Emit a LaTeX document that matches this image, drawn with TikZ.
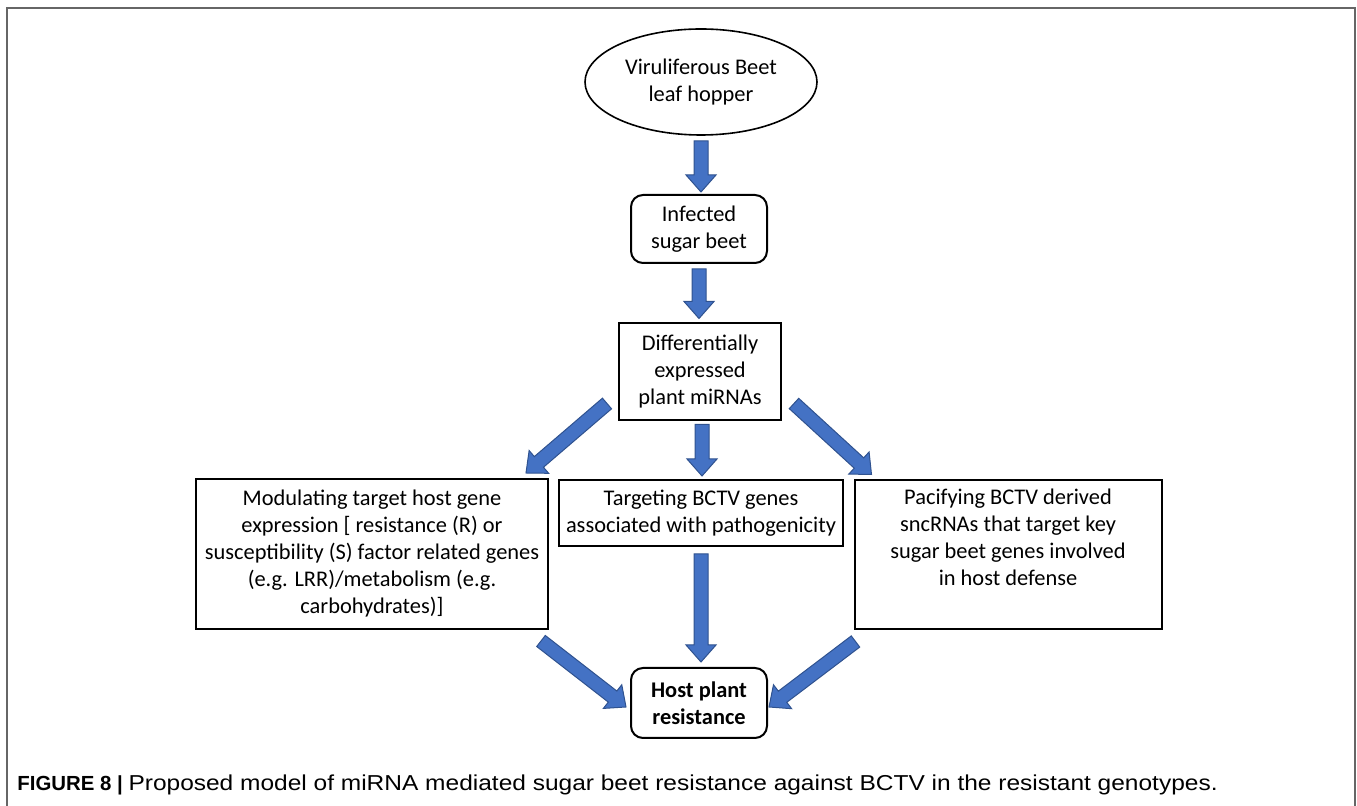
\documentclass[tikz,border=0pt]{standalone}
\usepackage{fontspec}
\usepackage{graphicx}
\setmainfont{Carlito}
\newfontfamily\capfont{Liberation Sans}
\usetikzlibrary{shapes.geometric}
\usetikzlibrary{calc}

\definecolor{arrblue}{HTML}{4472C4}
\definecolor{arredge}{HTML}{2F528F}
\definecolor{framegray}{HTML}{666666}

\tikzset{
  box/.style={draw,line width=1pt,align=center,inner sep=0pt,
    font=\fontsize{11.2}{13.5}\selectfont},
  rbox/.style={box,rounded corners=6pt},
  oval/.style={box,ellipse,line width=0.8pt},
  hostbox/.style={rbox,font=\fontsize{11.2}{13.5}\selectfont\bfseries},
  % block arrow, shaft 14px, head 30px wide, 17px long
  blk/.style={fill=arrblue,draw=arredge,line width=0.5pt,line join=miter,
    to path={
      ($(\tikztostart)!3.5pt!90:(\tikztotarget)$)
      -- ($(\tikztotarget)!8.5pt!(\tikztostart)!3.5pt!-90:(\tikztostart)$)
      -- ($(\tikztotarget)!8.5pt!(\tikztostart)!7.5pt!-90:(\tikztostart)$)
      -- (\tikztotarget)
      -- ($(\tikztotarget)!8.5pt!(\tikztostart)!7.5pt!90:(\tikztostart)$)
      -- ($(\tikztotarget)!8.5pt!(\tikztostart)!3.5pt!90:(\tikztostart)$)
      -- ($(\tikztostart)!3.5pt!-90:(\tikztotarget)$)
      -- cycle}}
}

\begin{document}
\begin{tikzpicture}[x=0.5pt,y=-0.5pt]
  \useasboundingbox (0,0) rectangle (1357,806);
  \draw[framegray,line width=1pt] (7,806) -- (7,8) -- (1355,8) -- (1355,806);

  \node[oval,minimum width=116pt,minimum height=53pt] at (701,82) (ell) {Viruliferous Beet\\leaf hopper};
  \node[rbox,minimum width=68pt,minimum height=34pt] at (699,229) (inf) {Infected\\sugar beet};
  \node[box,minimum width=81pt,minimum height=48.5pt] at (700,372) (dif) {Differentially\\expressed\\plant miRNAs};

  \node[box,minimum width=176pt,minimum height=75pt] at (372,554) (lft)
    {Modulating target host gene\\expression [ resistance (R) or\\susceptibility (S) factor related genes\\(e.g. LRR)/metabolism (e.g.\\carbohydrates)]};
  \node[box,minimum width=142pt,minimum height=33pt] at (701,513) (mid)
    {Targeting BCTV genes\\associated with pathogenicity};
  \node[box,minimum width=153.5pt,minimum height=74.5pt] at (1008,555) (rgt)
    {Pacifying BCTV derived\\sncRNAs that target key\\sugar beet genes involved\\in host defense\\[4pt]};

  \node[hostbox,minimum width=68pt,minimum height=35pt] at (699,703) (host) {Host plant\\resistance};

  % down the middle
  \draw[blk] ([shift={(0,5)}]ell.south) to ([shift={(0,-2)}]ell.south |- inf.north);
  \draw[blk] ([shift={(0,5)}]inf.south) to ([shift={(0,-4)}]inf.south |- dif.north);
  \draw[blk] ([shift={(2,3)}]dif.south) to ([shift={(2,-3)}]dif.south |- mid.north);
  \draw[blk] ([shift={(0,7)}]mid.south) to ([shift={(0,-5)}]mid.south |- host.north);
  % fan out
  \draw[blk] ([shift={(-11,-18)}]dif.south west) to ([shift={(-23,-5)}]lft.north east);
  \draw[blk] ([shift={(12,-18)}]dif.south east) to ([shift={(18,-5)}]rgt.north west);
  % back in
  \draw[blk] ([shift={(-8,11)}]lft.south east) to ([shift={(-4,4)}]host.west);
  \draw[blk] ([shift={(2,11)}]rgt.south west) to ([shift={(1,4)}]host.east);

  \node[anchor=base west,inner sep=0pt,font=\capfont\fontsize{10.2}{12}\selectfont] at (17,791) (cap)
    {\textbf{FIGURE 8 |} \scalebox{1.134}[1]{\fontsize{10.8}{12}\selectfont Proposed model of miRNA mediated sugar beet resistance against BCTV in the resistant genotypes.}};
\end{tikzpicture}
\end{document}
